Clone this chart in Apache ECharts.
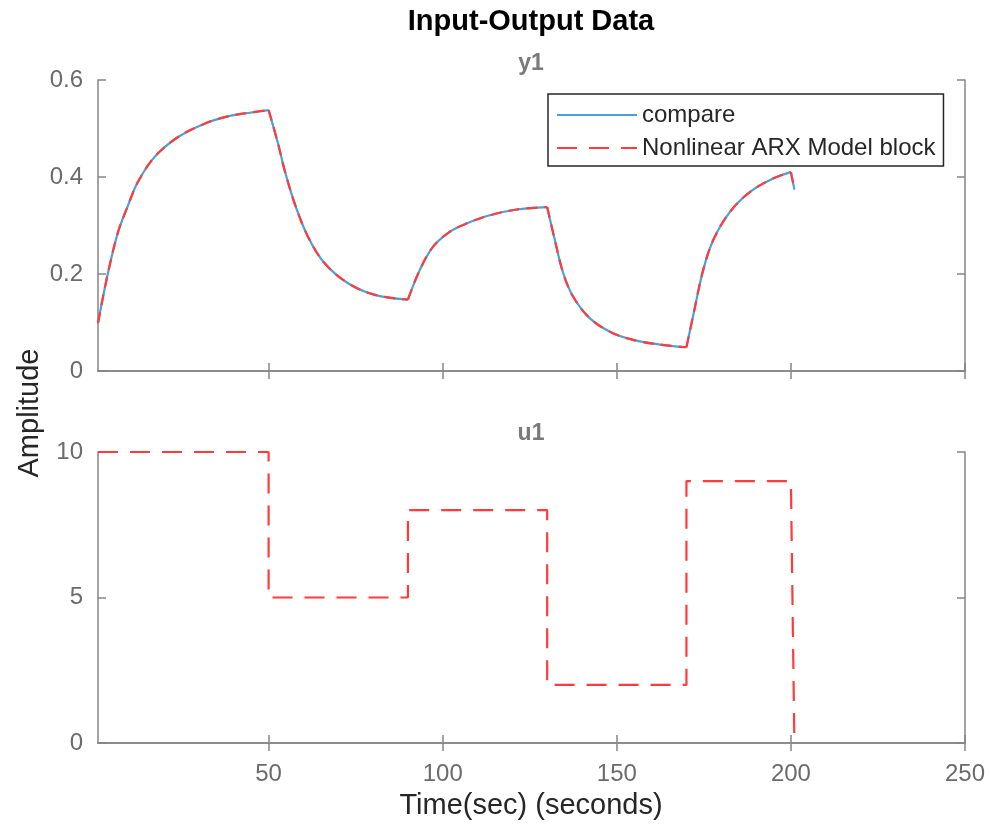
<!DOCTYPE html>
<html><head><meta charset="utf-8">
<script src="https://cdn.jsdelivr.net/npm/echarts@6/dist/echarts.min.js"></script>
<style>html,body{margin:0;padding:0;background:#fff}#c{width:991px;height:825px}</style>
</head><body><div id="c"></div>
<script>
// y1 output (time in seconds, amplitude)
const timeY = [1, 3.8, 6.7, 9.6, 12.4, 17.2, 23.9, 31.6, 38.3, 45, 50,
  52.7, 54.6, 57.5, 61.3, 66.1, 72.8, 80.5, 90,
  93.4, 97.2, 102, 106.8, 113.5, 121.2, 130,
  132.2, 134.6, 137.4, 142.2, 148.9, 156.6, 164.3, 170,
  171.9, 174.8, 177.7, 182.5, 188.2, 194.9, 200, 201];
const y1Values = [0.099, 0.200, 0.285, 0.341, 0.389, 0.441, 0.482, 0.510, 0.525, 0.533, 0.538,
  0.469, 0.414, 0.345, 0.277, 0.222, 0.181, 0.157, 0.147,
  0.208, 0.256, 0.287, 0.304, 0.321, 0.333, 0.338,
  0.270, 0.202, 0.154, 0.109, 0.078, 0.061, 0.053, 0.049,
  0.113, 0.208, 0.270, 0.328, 0.369, 0.397, 0.410, 0.374];
// u1 input
const timeU = [1, 50, 50, 90, 90, 130, 130, 170, 170, 200, 201];
const u1Values = [10, 10, 5, 5, 8, 8, 2, 2, 9, 9, 0];
// tick labels
const xTicks = [50, 100, 150, 200, 250];
const xRange = [1, 250];
const y1Range = [0, 0.6], y1Step = 0.2;
const u1Range = [0, 10], u1Step = 5;
const seriesNames = ['compare', 'Nonlinear ARX Model block'];

const FONT = '"Liberation Sans", Arial, Helvetica, sans-serif';
const AX = '#858585', LAB = '#6b6b6b';
const BLUE = '#4d9fd9', RED = '#ff3b3b';

const zip = (a, b) => a.map((v, i) => [v, b[i]]);
const y1Data = zip(timeY, y1Values);
const u1Data = zip(timeU, u1Values);

// split the response at its turning points (input steps) so each phase is smoothed separately
const breaks = [0];
for (let i = 1; i < y1Values.length - 1; i++) {
  if ((y1Values[i] - y1Values[i - 1]) * (y1Values[i + 1] - y1Values[i]) < 0) breaks.push(i);
}
breaks.push(y1Values.length - 1);
const y1Segments = [];
for (let k = 0; k < breaks.length - 1; k++) y1Segments.push(y1Data.slice(breaks[k], breaks[k + 1] + 1));

function xAx(gi, pos, labels) {
  return {
    type: 'value', gridIndex: gi, position: pos, min: xRange[0], max: xRange[1],
    axisLine: {show: true, lineStyle: {color: AX, width: 1.5}},
    axisTick: {show: true, inside: true, length: 8, customValues: xTicks, lineStyle: {color: AX, width: 1.5}},
    axisLabel: {show: labels, customValues: xTicks, color: LAB, fontFamily: FONT, fontSize: 24, margin: 19},
    splitLine: {show: false}
  };
}
function yAx(gi, pos, range, step, labels) {
  return {
    type: 'value', gridIndex: gi, position: pos, min: range[0], max: range[1], interval: step,
    axisLine: {show: true, lineStyle: {color: AX, width: 1.5}},
    axisTick: {show: true, inside: true, length: 8, lineStyle: {color: AX, width: 1.5}},
    axisLabel: {show: labels, color: LAB, fontFamily: FONT, fontSize: 24, margin: 15},
    splitLine: {show: false}
  };
}

const series = [
  {name: seriesNames[1], type: 'line', xAxisIndex: 2, yAxisIndex: 2, data: u1Data, showSymbol: false, symbol: 'none',
   lineStyle: {color: RED, width: 2.2, type: [20, 12]}, itemStyle: {color: RED}, z: 3}
];
y1Segments.forEach(seg => {
  series.push({name: seriesNames[0], type: 'line', xAxisIndex: 0, yAxisIndex: 0, data: seg, showSymbol: false, symbol: 'none',
    smooth: 0.35, lineStyle: {color: BLUE, width: 2.2}, itemStyle: {color: BLUE}, z: 2});
  series.push({name: seriesNames[1], type: 'line', xAxisIndex: 0, yAxisIndex: 0, data: seg, showSymbol: false, symbol: 'none',
    smooth: 0.35, lineStyle: {color: RED, width: 2.2, type: [11, 7]}, itemStyle: {color: RED}, z: 3});
});

const chart = echarts.init(document.getElementById('c'), null, {renderer: 'canvas'});
chart.setOption({
  backgroundColor: '#fff',
  animation: false,
  grid: [
    {left: 98, right: 26, top: 80, height: 291},
    {left: 98, right: 26, top: 452, height: 291}
  ],
  xAxis: [xAx(0, 'bottom', false), xAx(0, 'top', false), xAx(1, 'bottom', true), xAx(1, 'top', false)],
  yAxis: [yAx(0, 'left', y1Range, y1Step, true), yAx(0, 'right', y1Range, y1Step, false),
          yAx(1, 'left', u1Range, u1Step, true), yAx(1, 'right', u1Range, u1Step, false)],
  legend: {
    data: seriesNames,
    orient: 'vertical', left: 548, top: 94,
    padding: [9, 8, 6, 8], itemGap: 9,
    itemWidth: 80, itemHeight: 24,
    itemStyle: {opacity: 0},
    backgroundColor: '#fff', borderColor: '#262626', borderWidth: 1.5,
    textStyle: {fontFamily: FONT, fontSize: 24, color: '#262626', lineHeight: 24},
    selectedMode: false
  },
  graphic: [
    {type: 'text', x: 531, y: 22, style: {text: 'Input-Output Data', align: 'center', verticalAlign: 'middle', font: 'bold 29px ' + FONT, fill: '#000'}},
    {type: 'text', x: 531, y: 64, style: {text: 'y1', align: 'center', verticalAlign: 'middle', font: 'bold 23px ' + FONT, fill: '#7a7a7a'}},
    {type: 'text', x: 531, y: 434, style: {text: 'u1', align: 'center', verticalAlign: 'middle', font: 'bold 23px ' + FONT, fill: '#7a7a7a'}},
    {type: 'text', x: 531, y: 806, style: {text: 'Time(sec) (seconds)', align: 'center', verticalAlign: 'middle', font: '29px ' + FONT, fill: '#262626'}},
    {type: 'text', x: 30, y: 413, rotation: Math.PI / 2, style: {text: 'Amplitude', align: 'center', verticalAlign: 'middle', font: '29px ' + FONT, fill: '#262626'}}
  ],
  series: series
});
</script>
</body></html>
